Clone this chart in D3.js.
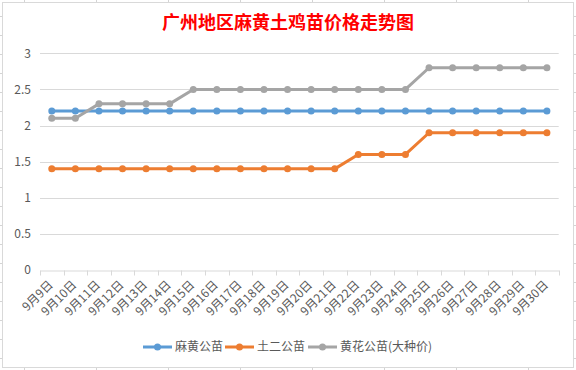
<!DOCTYPE html>
<html>
<head>
<meta charset="utf-8">
<script src="https://cdn.jsdelivr.net/npm/d3@7"></script>
<style>
  body { margin: 0; background: #fff; }
  svg { display: block; font-family: "Noto Sans CJK SC", "Noto Sans", sans-serif; }
</style>
</head>
<body>
<div id="chart"></div>
<script>
var W = 576, H = 370;
var margin = {top: 53.3, right: 17.3, bottom: 100, left: 40};

var chartTitle = "广州地区麻黄土鸡苗价格走势图";
var days = ["9月9日", "9月10日", "9月11日", "9月12日", "9月13日", "9月14日", "9月15日", "9月16日",
            "9月17日", "9月18日", "9月19日", "9月20日", "9月21日", "9月22日", "9月23日", "9月24日",
            "9月25日", "9月26日", "9月27日", "9月28日", "9月29日", "9月30日"];
var seriesNames = ["麻黄公苗", "土二公苗", "黄花公苗(大种价)"];
var mahuang = [2.2, 2.2, 2.2, 2.2, 2.2, 2.2, 2.2, 2.2, 2.2, 2.2, 2.2, 2.2, 2.2, 2.2, 2.2, 2.2, 2.2, 2.2, 2.2, 2.2, 2.2, 2.2];
var tuer    = [1.4, 1.4, 1.4, 1.4, 1.4, 1.4, 1.4, 1.4, 1.4, 1.4, 1.4, 1.4, 1.4, 1.6, 1.6, 1.6, 1.9, 1.9, 1.9, 1.9, 1.9, 1.9];
var huanghua = [2.1, 2.1, 2.3, 2.3, 2.3, 2.3, 2.5, 2.5, 2.5, 2.5, 2.5, 2.5, 2.5, 2.5, 2.5, 2.5, 2.8, 2.8, 2.8, 2.8, 2.8, 2.8];
var yTicks = [0, 0.5, 1, 1.5, 2, 2.5, 3];
var colors = ["#5b9bd5", "#ed7d31", "#a5a5a5"];

var series = [mahuang, tuer, huanghua].map((vals, i) => ({name: seriesNames[i], values: vals, color: colors[i]}));

var svg = d3.select("#chart").append("svg")
    .attr("width", W)
    .attr("height", H);

// spreadsheet cells showing behind the chart object
var grid = svg.append("g").attr("stroke", "#d4d4d4").attr("stroke-width", 1);
d3.range(24, W, 72).forEach(x => {
  grid.append("line").attr("x1", x + 0.5).attr("x2", x + 0.5).attr("y1", 0).attr("y2", H);
});
d3.range(16, H, 19).forEach(y => {
  grid.append("line").attr("x1", 0).attr("x2", W).attr("y1", y + 0.5).attr("y2", y + 0.5);
});

// chart object frame
svg.append("rect")
    .attr("x", 2.5).attr("y", 2.5)
    .attr("width", 571).attr("height", 365)
    .attr("fill", "#fff")
    .attr("stroke", "#d9d9d9");

svg.append("text")
    .attr("x", 288).attr("y", 29)
    .attr("text-anchor", "middle")
    .attr("fill", "#ff0000")
    .attr("font-size", 18)
    .attr("font-weight", "bold")
    .text(chartTitle);

var x = d3.scaleBand()
    .domain(days)
    .range([margin.left, W - margin.right]);

var y = d3.scaleLinear()
    .domain([0, 3])
    .range([270, margin.top]);

// horizontal gridlines
svg.append("g")
    .selectAll("line")
    .data(yTicks.filter(d => d > 0))
    .join("line")
      .attr("x1", margin.left).attr("x2", W - margin.right)
      .attr("y1", d => Math.round(y(d)) + 0.5).attr("y2", d => Math.round(y(d)) + 0.5)
      .attr("stroke", "#d9d9d9");

// y labels
svg.append("g")
    .selectAll("text")
    .data(yTicks)
    .join("text")
      .attr("x", 31)
      .attr("y", d => y(d))
      .attr("dy", "0.35em")
      .attr("text-anchor", "end")
      .attr("fill", "#595959")
      .attr("font-size", 12)
      .text(d => d);

// x axis line + ticks
var xAxis = svg.append("g")
    .attr("transform", `translate(0,${Math.round(y(0)) + 0.5})`)
    .call(d3.axisBottom(x).tickSize(0).tickFormat(""));
xAxis.select(".domain").attr("stroke", "#d9d9d9");
var bounds = days.map(d => x(d)).concat([x.range()[1]]);
xAxis.selectAll(".bt")
    .data(bounds)
    .join("line")
      .attr("x1", d => Math.round(d) + 0.5).attr("x2", d => Math.round(d) + 0.5)
      .attr("y1", 0).attr("y2", 5)
      .attr("stroke", "#d9d9d9");

// rotated date labels
svg.append("g")
    .selectAll("text")
    .data(days)
    .join("text")
      .attr("transform", d => `translate(${x(d) + x.bandwidth() / 2 - 1},${282.5}) rotate(-45)`)
      .attr("text-anchor", "end")
      .attr("dy", "0.35em")
      .attr("fill", "#595959")
      .attr("font-size", 12)
      .text(d => d);

var line = d3.line()
    .x((d, i) => x(days[i]) + x.bandwidth() / 2)
    .y(d => y(d));

var sg = svg.append("g")
    .selectAll("g")
    .data(series)
    .join("g");

sg.append("path")
    .attr("d", d => line(d.values))
    .attr("fill", "none")
    .attr("stroke", d => d.color)
    .attr("stroke-width", 3)
    .attr("stroke-linejoin", "round");

sg.selectAll("circle")
    .data(d => d.values.map(v => ({v: v, c: d.color})))
    .join("circle")
      .attr("cx", (d, i) => x(days[i]) + x.bandwidth() / 2)
      .attr("cy", d => y(d.v))
      .attr("r", 3.5)
      .attr("fill", d => d.c);

// legend
var legendX = [143, 225, 308];
var lg = svg.append("g")
    .selectAll("g")
    .data(series)
    .join("g")
      .attr("transform", (d, i) => `translate(${legendX[i]},347)`);
lg.append("line")
    .attr("x1", 0).attr("x2", 29)
    .attr("stroke", d => d.color)
    .attr("stroke-width", 3);
lg.append("circle")
    .attr("cx", 14.5).attr("r", 3.5)
    .attr("fill", d => d.color);
lg.append("text")
    .attr("x", 32)
    .attr("dy", "0.35em")
    .attr("fill", "#595959")
    .attr("font-size", 12)
    .text(d => d.name);
</script>
</body>
</html>
